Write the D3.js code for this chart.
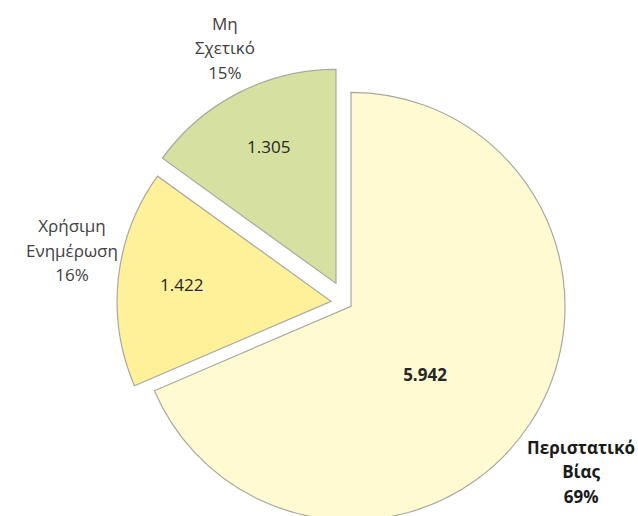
<!DOCTYPE html>
<html>
<head>
<meta charset="utf-8">
<script src="https://cdn.jsdelivr.net/npm/d3@7/dist/d3.min.js"></script>
<style>
  html, body { margin: 0; padding: 0; background: #fff; }
  svg { display: block; }
  text { font-family: "Open Sans", "Noto Sans", sans-serif; }
</style>
</head>
<body>
<svg id="chart" width="638" height="516"></svg>
<script>
// ---- data ----
const categories = [["Περιστατικό", "Βίας"], ["Χρήσιμη", "Ενημέρωση"], ["Μη", "Σχετικό"]];
const values = [5942, 1422, 1305];
const colors = ["#FFFAD2", "#FFF09A", "#D6E0A0"];

// ---- layout (styling only) ----
const W = 638, H = 516;
const center = [346, 303];
const radius = 214;
const explode = [6, 15, 22];
const nameLabel = [{ dist: 283.6, shift: 2.4, bold: true }, { dist: 264, shift: 4.75, bold: false }, { dist: 260, shift: 1.8, bold: false }];
const valueLabel = [{ k: 0.472, shift: 9.5, bold: true }, { k: 0.702, shift: 0, bold: false }, { k: 0.709, shift: 0.8, bold: false }];

const locale = d3.formatLocale({ decimal: ",", thousands: ".", grouping: [3], currency: ["", "€"] });
const fmtVal = locale.format(",d");
const total = d3.sum(values);
const fmtPct = v => Math.round(v / total * 100) + "%";

const svg = d3.select("#chart");
const pie = d3.pie().sort(null).startAngle(0).value(d => d);
const arcs = pie(values);
const arc = d3.arc().innerRadius(0).outerRadius(radius);
const rad = a => a; // angles already in radians
const polar = (ang, r) => [Math.sin(ang) * r, -Math.cos(ang) * r];

const g = svg.append("g").attr("transform", `translate(${center[0]},${center[1]})`);

arcs.forEach((a, i) => {
  const mid = (a.startAngle + a.endAngle) / 2;
  const off = polar(mid, explode[i]);
  const sg = g.append("g").attr("transform", `translate(${off[0]},${off[1]})`);
  sg.append("path")
    .attr("d", arc(a))
    .attr("fill", colors[i])
    .attr("stroke", "#A8A8A0")
    .attr("stroke-width", 1.2)
    .attr("stroke-linejoin", "miter");

  // value label
  const vl = valueLabel[i];
  const vp = polar(mid + vl.shift * Math.PI / 180, radius * vl.k);
  sg.append("text")
    .attr("x", vp[0]).attr("y", vp[1] + 6)
    .attr("text-anchor", "middle")
    .attr("font-size", 17)
    .attr("font-weight", vl.bold ? 700 : 400)
    .attr("fill", "#262626")
    .text(fmtVal(values[i]));

  // category label (3 lines, middle line at anchor)
  const nl = nameLabel[i];
  const np = polar(mid + nl.shift * Math.PI / 180, nl.dist);
  const lines = categories[i].concat([fmtPct(values[i])]);
  const t = sg.append("text")
    .attr("text-anchor", "middle")
    .attr("font-size", 17)
    .attr("font-weight", nl.bold ? 700 : 400)
    .attr("fill", nl.bold ? "#1a1a1a" : "#404040");
  lines.forEach((ln, j) => {
    t.append("tspan")
      .attr("x", np[0])
      .attr("y", np[1] + 6 + (j - 1) * 24.5)
      .text(ln);
  });
});
</script>
</body>
</html>
